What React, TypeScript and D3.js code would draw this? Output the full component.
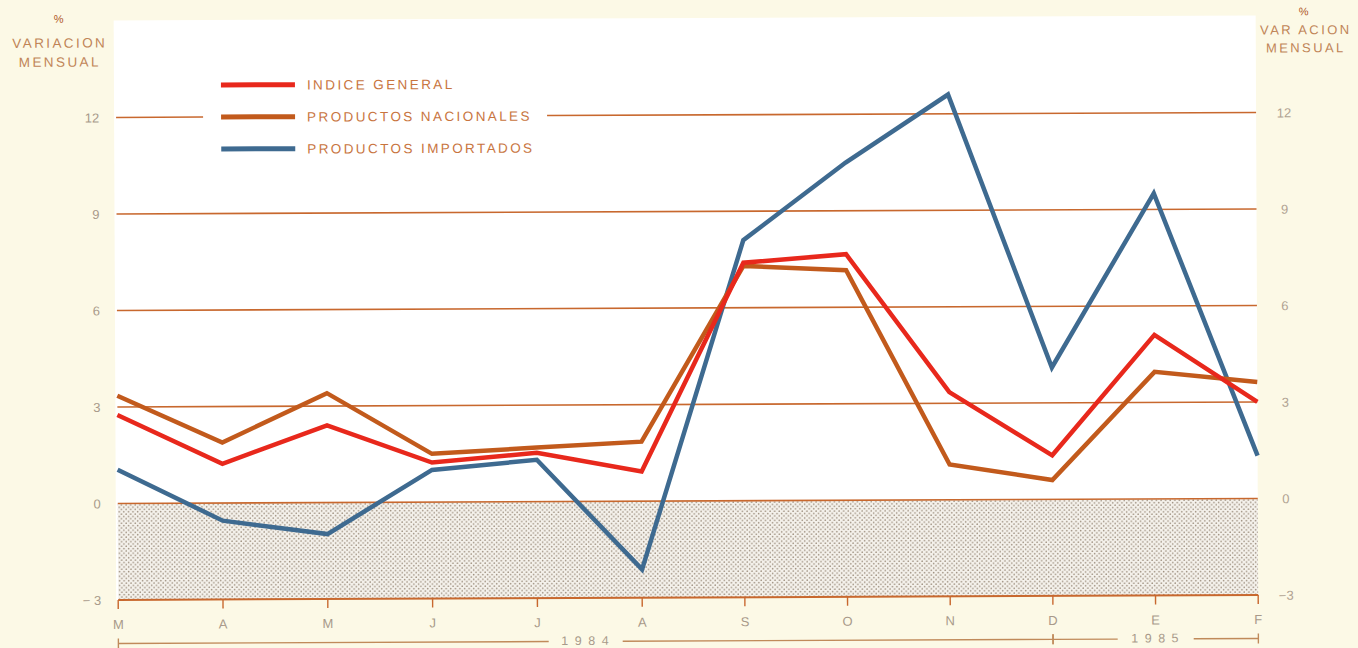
import React from "react";
import * as d3 from "d3";

const months = ["M", "A", "M", "J", "J", "A", "S", "O", "N", "D", "E", "F"];
const indiceGeneral = [2.75, 1.22, 2.4, 1.23, 1.52, 0.92, 7.4, 7.65, 3.35, 1.37, 5.1, 3.0];
const productosNacionales = [3.35, 1.88, 3.4, 1.5, 1.68, 1.85, 7.3, 7.15, 1.1, 0.6, 3.95, 3.62];
const productosImportados = [1.05, -0.55, -0.98, 1.0, 1.3, -2.12, 8.1, 10.5, 12.6, 4.1, 9.5, 1.33];
const yTicks = [12, 9, 6, 3, 0, -3];
const years = [
  { label: "1 9 8 4", from: 0, to: 9 },
  { label: "1 9 8 5", from: 9, to: 11 },
];
const series = [
  { name: "INDICE GENERAL", values: indiceGeneral, color: "#e8281c" },
  { name: "PRODUCTOS NACIONALES", values: productosNacionales, color: "#c25a1c" },
  { name: "PRODUCTOS IMPORTADOS", values: productosImportados, color: "#3e6a90" },
];

const W = 1358;
const H = 648;
const FONT = "'Liberation Sans', Arial, sans-serif";
const GRID = "#c8682e";

export default function App() {
  const x = d3.scaleLinear().domain([0, 5, 11]).range([117, 641, 1257]);
  const y = d3.scaleLinear().domain([-3, 12]).range([597.5, 115]);
  const line = d3
    .line<number>()
    .x((_, i) => x(i))
    .y((d) => y(d));

  const x0 = x(0);
  const x1 = x(11);
  const legendX = 222;
  const legendY0 = 83;
  const legendGap = 32;

  return (
    <svg
      width={W}
      height={H}
      style={{ position: "absolute", left: 0, top: 0, display: "block" }}
      fontFamily={FONT}
    >
      <defs>
        <pattern id="dots" width="4.6" height="4.6" patternUnits="userSpaceOnUse">
          <rect width="4.6" height="4.6" fill="#f5f2ec" />
          <circle cx="1.1" cy="1.1" r="0.8" fill="#9e9080" />
          <circle cx="3.4" cy="3.4" r="0.8" fill="#9e9080" />
        </pattern>
      </defs>
      <rect x={0} y={0} width={W} height={H} fill="#fcf9e6" />
      <g transform="rotate(-0.25 679 324)">
        <rect x={x0 - 2} y={18} width={x1 - x0 + 2} height={y(-3) - 18} fill="#ffffff" />
        {/* shaded negative band */}
        <rect x={x0} y={y(0)} width={x1 - x0} height={y(-3) - y(0)} fill="url(#dots)" />

        {/* gridlines */}
        {yTicks.map((t) =>
          t === 12 ? (
            <g key={t}>
              <line x1={x0} x2={204} y1={y(t)} y2={y(t)} stroke={GRID} strokeWidth={1.6} />
              <line x1={548} x2={x1} y1={y(t)} y2={y(t)} stroke={GRID} strokeWidth={1.6} />
            </g>
          ) : (
            <line key={t} x1={x0} x2={x1} y1={y(t)} y2={y(t)} stroke={GRID} strokeWidth={t === -3 ? 2 : 1.6} />
          )
        )}

        {/* x ticks */}
        {months.map((m, i) => (
          <g key={i}>
            <line x1={x(i)} x2={x(i)} y1={y(-3)} y2={y(-3) + 9} stroke={GRID} strokeWidth={1.4} />
            <text
              x={x(i)}
              y={y(-3) + 29}
              textAnchor="middle"
              fontSize={13}
              fill="#a8998a"
            >
              {m}
            </text>
          </g>
        ))}

        {/* year brackets */}
        {years.map((yr) => {
          const a = x(yr.from);
          const b = x(yr.to);
          const c = (a + b) / 2;
          const half = yr.from === 0 ? 37 : 38;
          const by = 641;
          return (
            <g key={yr.label}>
              <line x1={a} x2={c - half} y1={by} y2={by} stroke="#c08a5a" strokeWidth={1.4} />
              <line x1={c + half} x2={b} y1={by} y2={by} stroke="#c08a5a" strokeWidth={1.4} />
              <line x1={a} x2={a} y1={by - 5} y2={by + 5} stroke="#c08a5a" strokeWidth={1.4} />
              <line x1={b} x2={b} y1={by - 5} y2={by + 5} stroke="#c08a5a" strokeWidth={1.4} />
              <text x={c} y={by + 3.5} textAnchor="middle" fontSize={12.5} fill="#a8998a" letterSpacing={1.5}>
                {yr.label}
              </text>
            </g>
          );
        })}

        {/* y tick labels */}
        {yTicks.map((t) => (
          <g key={"l" + t}>
            <text x={100} y={y(t) + 5} textAnchor="end" fontSize={13} fill="#a8998a">
              {t < 0 ? "\u2212 " + Math.abs(t) : String(t)}
            </text>
            <text x={1285} y={y(t) + 5} textAnchor="middle" fontSize={13} fill="#b0a292">
              {t < 0 ? "\u2212" + Math.abs(t) : String(t)}
            </text>
          </g>
        ))}

        {/* axis titles */}
        <g fill="#c08456" fontSize={13.5} textAnchor="middle" letterSpacing={2.4}>
          <text x={60} y={20} fontSize={11} letterSpacing={0} fill="#b05a2a">%</text>
          <text x={61} y={45}>VARIACION</text>
          <text x={61} y={64}>MENSUAL</text>
          <text x={1305} y={18} fontSize={11} letterSpacing={0} fill="#b05a2a">%</text>
          <text x={1307} y={37} fontSize={13}>VAR ACION</text>
          <text x={1307} y={55} fontSize={13}>MENSUAL</text>
        </g>

        {/* series lines */}
        {[...series].reverse().map((s) => (
          <path
            key={s.name}
            d={line(s.values) || ""}
            fill="none"
            stroke={s.color}
            strokeWidth={4.5}
            strokeLinejoin="miter"
          />
        ))}

        {/* legend */}
        {series.map((s, i) => (
          <g key={"lg" + s.name}>
            <line
              x1={legendX}
              x2={legendX + 74}
              y1={legendY0 + i * legendGap}
              y2={legendY0 + i * legendGap}
              stroke={s.color}
              strokeWidth={5}
            />
            <text
              x={legendX + 86}
              y={legendY0 + i * legendGap + 5}
              fontSize={13.5}
              fill="#c8743e"
              letterSpacing={2.4}
            >
              {s.name}
            </text>
          </g>
        ))}
      </g>
    </svg>
  );
}
